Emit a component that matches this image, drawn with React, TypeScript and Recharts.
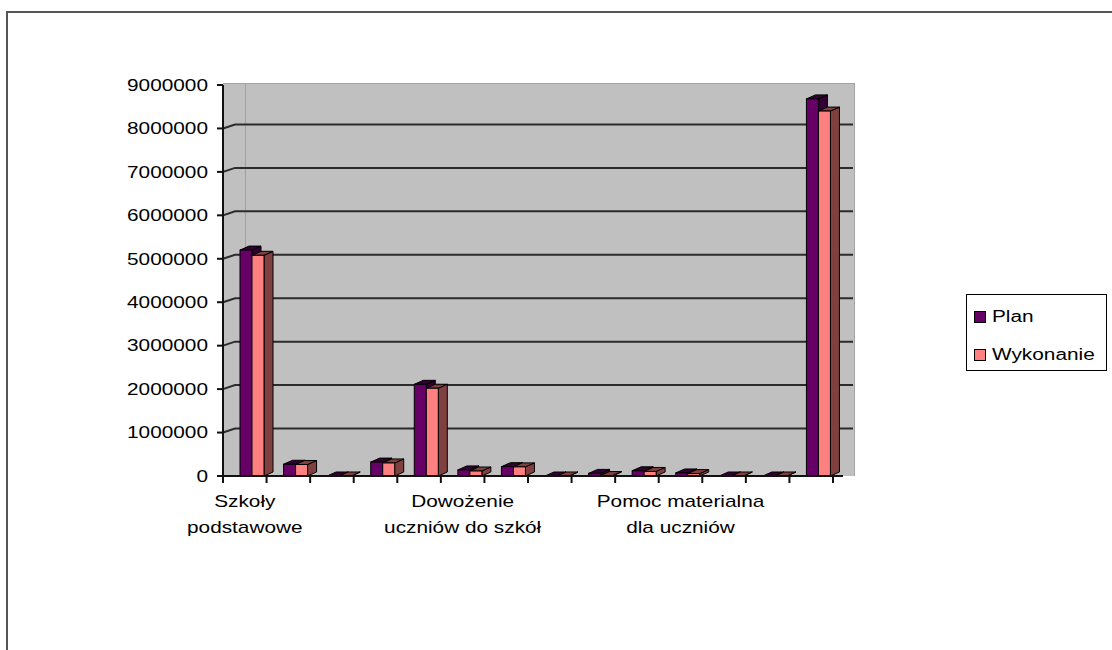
import React from 'react';
import { BarChart, Bar, XAxis, YAxis, CartesianGrid, Legend } from 'recharts';

// Budget chapters (plan vs. execution), in PLN
const categories = [
  'Szkoły podstawowe',
  'Oddziały przedszkolne w szkołach podstawowych',
  'Szkoły podstawowe specjalne',
  'Przedszkola',
  'Gimnazja',
  'Dowożenie uczniów do szkół',
  'Zespoły obsługi ekonomiczno-administracyjnej szkół',
  'Licea ogólnokształcące',
  'Komisje egzaminacyjne',
  'Dokształcanie i doskonalenie nauczycieli',
  'Pomoc materialna dla uczniów',
  'Świetlice szkolne',
  'Pozostała działalność',
  'Razem',
];

const planValues = [
  5200000, 270000, 0, 320000, 2110000, 140000, 215000, 0, 60000, 120000, 70000, 0, 0, 8680000,
];

const wykonanieValues = [
  5080000, 265000, 0, 300000, 2020000, 115000, 210000, 0, 10000, 105000, 55000, 0, 0, 8400000,
];

const seriesNames = ['Plan', 'Wykonanie'];

const yTicks = [0, 1000000, 2000000, 3000000, 4000000, 5000000, 6000000, 7000000, 8000000, 9000000];

// every fifth category gets a visible label
const LABEL_STEP = 5;

const data = categories.map((name, i) => ({
  name,
  plan: planValues[i],
  wykonanie: wykonanieValues[i],
}));

// layout
const CHART_W = 1112;
const CHART_H = 650;
const PLOT_LEFT = 223;
const PLOT_TOP = 85;
const PLOT_RIGHT = 833;
const PLOT_BOTTOM = 476;
const Y_AXIS_W = 60;
const X_AXIS_H = 70;
const BAND = (PLOT_RIGHT - PLOT_LEFT) / categories.length;

// pseudo-3D depth of columns and back wall
const DEPTH_X = 9;
const DEPTH_Y = 4;
const BAR_SHIFT = 7;
const WALL_X = 12;
const WALL_Y = 4;

const FONT = '"Liberation Sans", Arial, sans-serif';
const FONT_SIZE = 16;
const STRETCH = 1.3;

const PLAN_COLOR = '#660066';
const PLAN_SHADE = '#330033';
const WYK_COLOR = '#FF8080';
const WYK_SHADE = '#804040';

function wrapLabel(text: string, maxChars: number): string[] {
  const words = text.split(' ');
  const lines: string[] = [];
  let cur = '';
  for (const w of words) {
    const next = cur ? cur + ' ' + w : w;
    if (next.length > maxChars && cur) {
      lines.push(cur);
      cur = w;
    } else {
      cur = next;
    }
  }
  if (cur) lines.push(cur);
  return lines;
}

function makeColumn(front: string, shade: string) {
  return (props: any) => {
    const { x, y, width, height } = props;
    if (x == null || y == null) return <g />;
    const left = x + BAR_SHIFT;
    const right = left + width;
    const bottom = y + height;
    return (
      <g stroke="#000" strokeWidth={1}>
        <polygon
          points={`${right},${bottom} ${right},${y} ${right + DEPTH_X},${y - DEPTH_Y} ${right + DEPTH_X},${bottom - DEPTH_Y}`}
          fill={shade}
        />
        <polygon
          points={`${left},${y} ${left + DEPTH_X},${y - DEPTH_Y} ${right + DEPTH_X},${y - DEPTH_Y} ${right},${y}`}
          fill={shade}
        />
        <rect x={left} y={y} width={width} height={Math.max(height, 0)} fill={front} />
      </g>
    );
  };
}

const planColumn = makeColumn(PLAN_COLOR, PLAN_SHADE);
const wykColumn = makeColumn(WYK_COLOR, WYK_SHADE);

// horizontal grid lines bend back onto the rear wall
function gridLine(props: any) {
  const { x1, x2, y1, index } = props;
  if (Math.abs(y1 - PLOT_BOTTOM) < 1 || Math.abs(y1 - PLOT_TOP) < 1) return <g key={`g-${index}`} />;
  return (
    <polyline
      key={`g-${index}`}
      points={`${x1},${y1} ${x1 + WALL_X},${y1 - WALL_Y} ${x2 + 20},${y1 - WALL_Y}`}
      fill="none"
      stroke="#2b2b2b"
      strokeWidth={2}
    />
  );
}

function ValueTick(props: any) {
  const { x, y, payload } = props;
  return (
    <text
      transform={`translate(${x - 7},${y}) scale(${STRETCH},1)`}
      textAnchor="end"
      dy="0.36em"
      fontFamily={FONT}
      fontSize={FONT_SIZE}
      fill="#000"
    >
      {payload.value}
    </text>
  );
}

function CategoryTick(props: any) {
  const { x, y, payload, index } = props;
  const half = BAND / 2;
  const lines = index % LABEL_STEP === 0 ? wrapLabel(String(payload.value), 16) : [];
  const isLast = index === categories.length - 1;
  return (
    <g>
      <line x1={x - half} y1={y} x2={x - half} y2={y + 7} stroke="#111" strokeWidth={2} />
      {isLast && (
        <>
          <line x1={x + half} y1={y} x2={x + half} y2={y + 7} stroke="#111" strokeWidth={2} />
          <line x1={x + half} y1={y} x2={x + half + 10} y2={y} stroke="#111" strokeWidth={2} />
        </>
      )}
      {lines.map((ln, i) => (
        <text
          key={i}
          transform={`translate(${x},${y + 31 + i * 26}) scale(${STRETCH},1)`}
          textAnchor="middle"
          fontFamily={FONT}
          fontSize={FONT_SIZE}
          fill="#000"
        >
          {ln}
        </text>
      ))}
    </g>
  );
}

function LegendBox(props: any) {
  const payload = props.payload || [];
  return (
    <div
      style={{
        position: 'relative',
        width: 141,
        height: 77,
        border: '1px solid #000',
        boxSizing: 'border-box',
        background: '#fff',
      }}
    >
      {payload.map((entry: any, i: number) => (
        <div
          key={entry.value}
          style={{
            position: 'absolute',
            left: 7,
            top: 16 + i * 38,
            height: 12,
            display: 'flex',
            alignItems: 'center',
          }}
        >
          <span
            style={{
              display: 'inline-block',
              width: 12,
              height: 12,
              boxSizing: 'border-box',
              border: '1px solid #000',
              background: entry.color,
            }}
          />
          <span
            style={{
              display: 'inline-block',
              marginLeft: 6,
              fontFamily: FONT,
              fontSize: FONT_SIZE,
              lineHeight: '12px',
              color: '#000',
              whiteSpace: 'nowrap',
              transform: `scaleX(${STRETCH})`,
              transformOrigin: 'left center',
            }}
          >
            {entry.value}
          </span>
        </div>
      ))}
    </div>
  );
}

export default function App() {
  return (
    <div
      style={{
        position: 'absolute',
        left: 0,
        top: 0,
        width: CHART_W,
        height: CHART_H,
        overflow: 'hidden',
        background: '#fff',
      }}
    >
      {/* outer chart frame */}
      <div
        style={{
          position: 'absolute',
          left: 6,
          top: 11,
          width: CHART_W + 20,
          height: CHART_H + 20,
          borderTop: '2px solid #555',
          borderLeft: '2px solid #555',
        }}
      />
      {/* plot area wall */}
      <div
        style={{
          position: 'absolute',
          left: PLOT_LEFT,
          top: PLOT_TOP - 2,
          width: PLOT_RIGHT + 22 - PLOT_LEFT,
          height: PLOT_BOTTOM - PLOT_TOP + 2,
          background: '#C0C0C0',
          borderTop: '1px solid #a4a4a4',
          borderRight: '1px solid #a4a4a4',
          boxSizing: 'border-box',
        }}
      />
      <div
        style={{
          position: 'absolute',
          left: PLOT_LEFT + BAND / 2,
          top: PLOT_TOP - 1,
          width: 1,
          height: PLOT_BOTTOM - PLOT_TOP,
          background: '#a0a0a0',
        }}
      />
      <div style={{ position: 'absolute', left: 0, top: 0 }}>
        <BarChart
          width={CHART_W}
          height={CHART_H}
          data={data}
          margin={{
            top: PLOT_TOP,
            right: CHART_W - PLOT_RIGHT,
            bottom: CHART_H - PLOT_BOTTOM - X_AXIS_H,
            left: PLOT_LEFT - Y_AXIS_W,
          }}
          barGap={0}
          barSize={12}
        >
          <CartesianGrid vertical={false} horizontal={gridLine} />
          <XAxis
            dataKey="name"
            interval={0}
            height={X_AXIS_H}
            tickSize={0}
            tickMargin={0}
            tickLine={false}
            axisLine={{ stroke: '#111', strokeWidth: 2 }}
            tick={CategoryTick}
          />
          <YAxis
            domain={[0, 9000000]}
            ticks={yTicks}
            interval={0}
            width={Y_AXIS_W}
            tickSize={6}
            tickLine={{ stroke: '#111', strokeWidth: 2 }}
            axisLine={{ stroke: '#111', strokeWidth: 2 }}
            tick={ValueTick}
          />
          <Legend
            layout="vertical"
            align="center"
            verticalAlign="middle"
            content={LegendBox}
            wrapperStyle={{ left: 966, top: 294, width: 141, height: 77 }}
          />
          <Bar
            dataKey="plan"
            name={seriesNames[0]}
            fill={PLAN_COLOR}
            shape={planColumn}
            isAnimationActive={false}
          />
          <Bar
            dataKey="wykonanie"
            name={seriesNames[1]}
            fill={WYK_COLOR}
            shape={wykColumn}
            isAnimationActive={false}
          />
        </BarChart>
      </div>
    </div>
  );
}
